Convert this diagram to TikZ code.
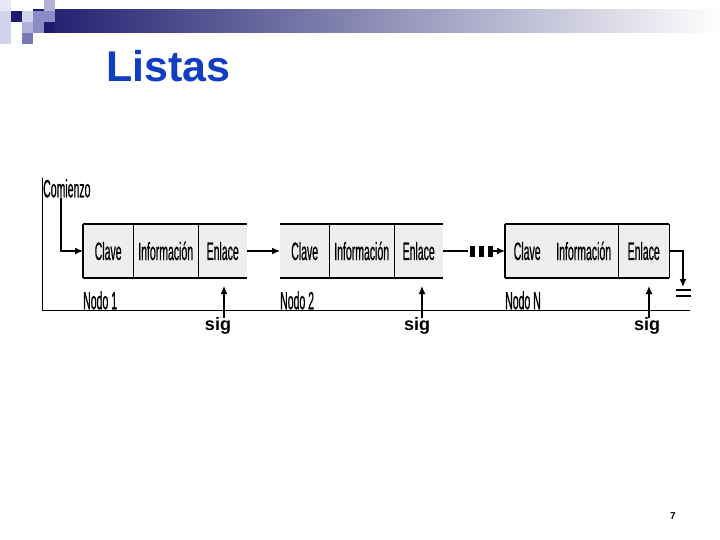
\documentclass[tikz,border=0pt]{standalone}
\usepackage{fontspec}
\setmainfont{Liberation Sans}
\newfontfamily\cond[FakeStretch=0.42,FakeBold=0.6]{Liberation Sans}
\usetikzlibrary{arrows.meta}
\definecolor{navy}{RGB}{28,28,110}
\definecolor{sqA}{RGB}{232,232,244}
\definecolor{sqB}{RGB}{210,210,234}
\definecolor{sqC}{RGB}{176,176,216}
\definecolor{sqD}{RGB}{140,140,196}
\definecolor{sqE}{RGB}{120,120,180}
\definecolor{boxgray}{RGB}{238,238,238}
\definecolor{titleblue}{RGB}{18,62,196}
\begin{document}
\begin{tikzpicture}[x=1pt,y=-1pt,
  cell/.style={fill=boxgray, minimum height=54pt, inner sep=0pt, anchor=west, font=\cond\fontsize{25}{25}\selectfont},
  lbl/.style={font=\cond\fontsize{25}{25}\selectfont, inner sep=0pt, anchor=north west},
  sigl/.style={font=\bfseries\fontsize{18}{18}\selectfont, inner sep=0pt, anchor=base},
  arr/.style={-{Latex[length=8pt,width=7pt]}, line width=1.3pt},
  edge/.style={line width=2.2pt},
  div/.style={line width=1.2pt}]
\useasboundingbox[fill=white] (0,0) rectangle (720,540);
% header
\shade[left color=navy, right color=white] (33,10) rectangle (720,33);
\fill[sqA] (0,0) rectangle (11,11);
\fill[sqB] (0,11) rectangle (11,44);
\fill[navy] (11,11) rectangle (22,22);
\fill[sqB] (22,11) rectangle (33,22);
\fill[sqD] (33,11) rectangle (44,22);
\fill[sqC] (44,0) rectangle (55,11);
\fill[sqD] (44,11) rectangle (55,22);
\fill[navy] (44,22) rectangle (55,33);
\fill[sqC] (22,22) rectangle (33,33);
\fill[sqD] (33,22) rectangle (44,33);
\fill[sqE] (22,33) rectangle (33,44);
\node[anchor=base west, font=\bfseries\fontsize{43}{43}\selectfont, text=titleblue, inner sep=0pt] (title) at (106,82) {Listas};
% frame
\coordinate (ftop) at (42,178);
\coordinate (fbot) at (690,310);
\draw[line width=1pt] (ftop) |- (fbot);
\node[lbl] (com) at (43,179) {Comienzo};
% box 1
\node[cell, minimum width=50pt] (c1) at (83,251) {Clave};
\node[cell, minimum width=65pt] (i1) at (133,251) {Información};
\node[cell, minimum width=49pt] (e1) at (198,251) {Enlace};
\draw[edge] (c1.north west) -- (e1.north east);
\draw[edge] (c1.south west) -- (e1.south east);
\draw[div] (c1.north west) -- (c1.south west);
\draw[div] (c1.north east) -- (c1.south east);
\draw[div] (i1.north east) -- (i1.south east);
\node[lbl] (n1) at (83,291) {Nodo 1};
% box 2
\node[cell, minimum width=49pt] (c2) at (280,251) {Clave};
\node[cell, minimum width=65pt] (i2) at (329,251) {Información};
\node[cell, minimum width=49pt] (e2) at (394,251) {Enlace};
\draw[edge] (c2.north west) -- (e2.north east);
\draw[edge] (c2.south west) -- (e2.south east);
\draw[div] (c2.north east) -- (c2.south east);
\draw[div] (i2.north east) -- (i2.south east);
\node[lbl] (n2) at (280,291) {Nodo 2};
% box N
\node[cell, minimum width=44pt] (cN) at (505,251) {Clave};
\node[cell, minimum width=69pt] (iN) at (549,251) {Información};
\node[cell, minimum width=51pt] (eN) at (618,251) {Enlace};
\draw[edge] (cN.north west) -- (eN.north east);
\draw[edge] (cN.south west) -- (eN.south east);
\draw[div] (cN.north west) -- (cN.south west);
\draw[div] (iN.north east) -- (iN.south east);
\draw[div] (eN.north east) -- (eN.south east);
\node[lbl] (nN) at (505,291) {Nodo N};
% connectors
\draw[arr] ([xshift=18pt]com.south west) |- (c1.west);
\draw[arr] (e1.east) -- (c2.west);
\coordinate (dstart) at (468,251);
\draw[div] (e2.east) -- (dstart);
\foreach \x in {470,479,488} \fill (\x,246) rectangle ++(5,11);
\coordinate (dend) at (493,251);
\draw[arr] (dend) -- (cN.west);
\coordinate (gcorner) at (683,251);
\coordinate (gnd) at (683,287);
\draw[arr] (eN.east) -- (gcorner) -- (gnd);
\draw[line width=2pt] (676,290) -- (691,290);
\draw[line width=2pt] (676,296) -- (691,296);
% sig labels
\node[sigl] (s1) at (218,330) {sig};
\node[sigl] (s2) at (417,330) {sig};
\node[sigl] (s3) at (647,330) {sig};
\coordinate (a1) at (224,286);
\coordinate (a2) at (422,286);
\coordinate (a3) at (649,286);
\draw[arr] (a1 |- 0,318) -- (a1);
\draw[arr] (a2 |- 0,318) -- (a2);
\draw[arr] (a3 |- 0,318) -- (a3);
\node[font=\bfseries\fontsize{10}{10}\selectfont, inner sep=0pt] (pg) at (673,516) {7};
\end{tikzpicture}
\end{document}
